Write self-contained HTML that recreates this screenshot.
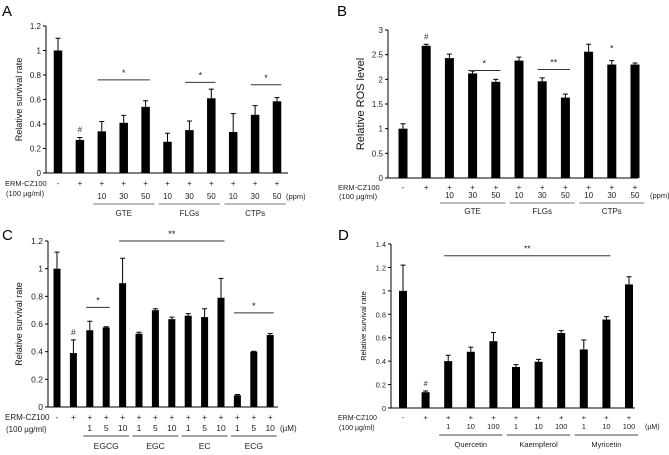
<!DOCTYPE html>
<html><head><meta charset="utf-8"><style>
body{margin:0;background:#fff}
svg{display:block;font-family:"Liberation Sans",Arial,sans-serif}
</style></head><body>
<svg id="fig" width="669" height="455" viewBox="0 0 669 455"></svg>
<script>
// Panel A data
const aCats=["-","+","10","30","50","10","30","50","10","30","50"];
const aVals=[1.0,0.27,0.34,0.41,0.54,0.255,0.35,0.61,0.335,0.475,0.585];
const aErr=[0.1,0.02,0.08,0.06,0.05,0.07,0.075,0.075,0.15,0.075,0.03];
const aTicks=[0,0.2,0.4,0.6,0.8,1,1.2];
const aGroups=["GTE","FLGs","CTPs"];
// Panel B data
const bCats=["-","+","10","30","50","10","30","50","10","30","50"];
const bVals=[1.0,2.68,2.43,2.12,1.95,2.38,1.96,1.63,2.56,2.30,2.30];
const bErr=[0.1,0.03,0.08,0.05,0.05,0.07,0.07,0.07,0.15,0.08,0.03];
const bTicks=[0,0.5,1,1.5,2,2.5,3];
const bGroups=["GTE","FLGs","CTPs"];
// Panel C data
const cCats=["-","+","1","5","10","1","5","10","1","5","10","1","5","10"];
const cVals=[1.0,0.39,0.555,0.575,0.895,0.53,0.70,0.635,0.66,0.65,0.79,0.085,0.40,0.52];
const cErr=[0.12,0.095,0.065,0.005,0.18,0.01,0.01,0.015,0.015,0.06,0.14,0.005,0.003,0.01];
const cTicks=[0,0.2,0.4,0.6,0.8,1,1.2];
const cGroups=["EGCG","EGC","EC","ECG"];
// Panel D data
const dCats=["-","+","1","10","100","1","10","100","1","10","100"];
const dVals=[1.0,0.135,0.40,0.48,0.57,0.35,0.395,0.64,0.50,0.755,1.055];
const dErr=[0.22,0.01,0.05,0.04,0.075,0.02,0.02,0.02,0.08,0.025,0.065];
const dTicks=[0,0.2,0.4,0.6,0.8,1,1.2,1.4];
const dGroups=["Quercetin","Kaempferol","Myricetin"];

const NS="http://www.w3.org/2000/svg";
const svg=document.getElementById('fig');
function mk(tag,attrs,parent,text){const e=document.createElementNS(NS,tag);for(const k in attrs)e.setAttribute(k,attrs[k]);if(text!==undefined)e.textContent=text;(parent||svg).appendChild(e);return e;}

function panel(L,cats,vals,errs,ticks,groups,sig){
  const g=mk('g',{});
  
  
  const ymax=ticks[ticks.length-1];
  const y=v=>L.y0-(v/ymax)*(L.y0-L.yTop);
  const x=i=>L.x1+i*L.dx;
  const t=mk('text',{x:L.lx,y:L.ly,'font-size':15,fill:'#000'},g,L.id);
  
  
  const ya=mk('line',{x1:L.ax,y1:L.y0,x2:L.ax,y2:L.yTop,stroke:'#000','stroke-width':1},g);
  
  
  const xa=mk('line',{x1:L.ax,y1:L.y0,x2:L.axEnd,y2:L.y0,stroke:'#000','stroke-width':1},g);
  
  
  ticks.forEach(tv=>{
    mk('line',{x1:L.ax-3,y1:y(tv),x2:L.ax,y2:y(tv),stroke:'#000'},g);
    const tl=mk('text',{x:L.ax-5,y:y(tv)+3,'font-size':L.fs,'text-anchor':'end',fill:'#222'},g,String(tv));
    
    
  });
  const yt=mk('text',{x:0,y:0,'font-size':L.yfs,'text-anchor':'middle',fill:'#111',transform:`translate(${L.ytx},${(L.y0+L.yTop)/2}) rotate(-90)`},g,L.ytitle);
  
  
  vals.forEach((v,i)=>{
    const b=mk('rect',{x:x(i)-L.bw/2,y:y(v),width:L.bw,height:L.y0-y(v),fill:'#000'},g);
    
    
    const top=y(v+errs[i]);
    const e=mk('path',{d:`M${x(i)} ${y(v)}V${top}M${x(i)-2.5} ${top}H${x(i)+2.5}`,stroke:'#000','stroke-width':1,fill:'none'},g);
    
    
    const pm=mk('text',{x:x(i),y:L.rowPlus,'font-size':L.fs,'text-anchor':'middle',fill:'#222'},g,i===0?'-':'+');
    
    
    if(i>=2){
      const c=mk('text',{x:x(i),y:L.rowNum,'font-size':L.fs,'text-anchor':'middle',fill:'#222'},g,cats[i]);
      
      
    }
  });
  const h=mk('text',{x:x(1),y:y(vals[1]+errs[1])-5,'font-size':L.fs,'text-anchor':'middle',fill:'#333'},g,'#');
  
  
  const e1=mk('text',{x:L.erx,y:L.rowPlus,'font-size':L.fs-0.5,fill:'#222'},g,'ERM-CZ100');
  
  
  const e2=mk('text',{x:L.erx+1,y:L.rowConc,'font-size':L.fs-0.5,fill:'#222'},g,'(100 µg/ml)');
  
  
  const u=mk('text',{x:L.unitx,y:L.rowNum,'font-size':L.fs-0.5,fill:'#222'},g,L.unit);
  
  
  groups.forEach((gn,k)=>{
    const s=2+k*3, e=s+2;
    const ln=mk('line',{x1:x(s)-L.dx*0.4,y1:L.rowLine,x2:x(e)+L.dx*0.4,y2:L.rowLine,stroke:L.gc,'stroke-width':1},g);
    
    
    const gt=mk('text',{x:x(s+1),y:L.rowName,'font-size':L.fs,'text-anchor':'middle',fill:'#222'},g,gn);
    
    
  });
  sig.forEach(s=>{
    if(s.a!==s.b){
      const sl=mk('line',{x1:x(s.a)-L.bw/2,y1:y(s.v),x2:x(s.b)+L.bw/2,y2:y(s.v),stroke:'#333','stroke-width':1},g);
      
      
    }
    const st=mk('text',{x:(x(s.a)+x(s.b))/2,y:y(s.v)-4,'font-size':L.fs+1,'text-anchor':'middle',fill:'#222'},g,s.t);
    
    
  });
}

panel({id:'A',lx:2,ly:16,ax:46,axEnd:288,y0:173,yTop:26,x1:58,dx:21.9,bw:8.5,fs:8,yfs:9,ytx:22,ytitle:'Relative survival rate',
  rowPlus:186,rowConc:196,rowNum:199,rowLine:204,rowName:216,erx:5,unitx:286,unit:'(ppm)',gc:'#777'},
  aCats,aVals,aErr,aTicks,aGroups,
  [{a:2,b:4,v:0.76,t:'*'},{a:6,b:7,v:0.74,t:'*'},{a:9,b:10,v:0.72,t:'*'}]);
panel({id:'B',lx:337,ly:16,ax:388,axEnd:638,y0:178,yTop:30,x1:403,dx:23.2,bw:9,fs:8,yfs:11,ytx:364,ytitle:'Relative ROS level',
  rowPlus:190,rowConc:199,rowNum:198,rowLine:203,rowName:214,erx:338,unitx:650,unit:'(ppm)',gc:'#777'},
  bCats,bVals,bErr,bTicks,bGroups,
  [{a:3,b:4,v:2.18,t:'*'},{a:6,b:7,v:2.2,t:'**'},{a:9,b:9,v:2.48,t:'*'}]);
panel({id:'C',lx:2,ly:240,ax:48,axEnd:278,y0:407,yTop:241,x1:57,dx:16.4,bw:7,fs:8.5,yfs:9,ytx:22,ytitle:'Relative survival rate',
  rowPlus:420,rowConc:432,rowNum:431,rowLine:436,rowName:449,erx:5,unitx:280,unit:'(µM)',gc:'#444'},
  cCats,cVals,cErr,cTicks,cGroups,
  [{a:2,b:3,v:0.72,t:'*'},{a:4,b:10,v:1.2,t:'**'},{a:11,b:13,v:0.68,t:'*'}]);
panel({id:'D',lx:338,ly:240,ax:391,axEnd:635,y0:408,yTop:244,x1:403,dx:22.6,bw:8,fs:7.5,yfs:7.5,ytx:366,ytitle:'Relative survival rate',
  rowPlus:420,rowConc:430,rowNum:429,rowLine:435,rowName:447,erx:338,unitx:645,unit:'(µM)',gc:'#444'},
  dCats,dVals,dErr,dTicks,dGroups,
  [{a:2,b:9,v:1.3,t:'**'}]);
</script>
</body></html>
